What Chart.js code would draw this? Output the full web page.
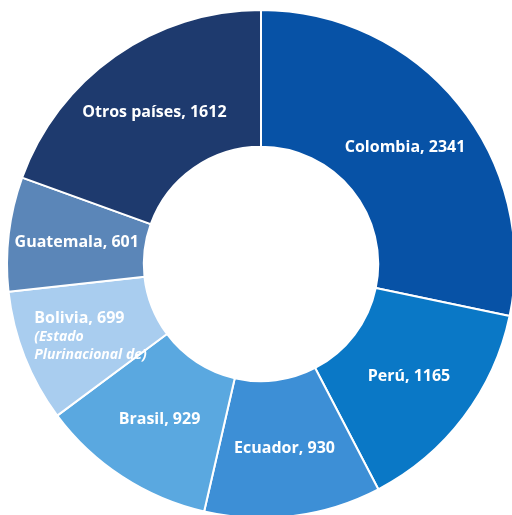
<!DOCTYPE html>
<html>
<head>
<meta charset="utf-8">
<script src="https://cdn.jsdelivr.net/npm/chart.js@4/dist/chart.umd.min.js"></script>
<style>
html,body{margin:0;padding:0;background:#fff;overflow:hidden;width:512px;height:515px;}
#wrap{position:absolute;left:0;top:0;width:522px;height:528px;}
</style>
</head>
<body>
<div id="wrap"><canvas id="c" width="522" height="528"></canvas></div>
<script>
const categories = ["Colombia", "Perú", "Ecuador", "Brasil", "Bolivia", "Guatemala", "Otros países"];
const values = [2341, 1165, 930, 929, 699, 601, 1612];
const subLabels = [[], [], [], [], ["(Estado", "Plurinacional de)"], [], []];
const colors = ["#0752a6", "#0a78c6", "#3d8fd6", "#5aa8e0", "#a9cdef", "#5b86b8", "#1e3a6e"];

const labelPlugin = {
  id: 'sliceLabels',
  afterDatasetsDraw(chart) {
    const ctx = chart.ctx;
    const meta = chart.getDatasetMeta(0);
    ctx.save();
    ctx.fillStyle = '#ffffff';
    ctx.textBaseline = 'middle';
    meta.data.forEach((arc, i) => {
      const p = arc.getCenterPoint();
      const main = categories[i] + ', ' + values[i];
      const subs = subLabels[i];
      if (subs.length === 0) {
        ctx.textAlign = 'center';
        ctx.font = 'bold 16px "Open Sans", sans-serif';
        ctx.fillText(main, p.x, p.y);
      } else {
        ctx.textAlign = 'left';
        ctx.font = 'bold 16px "Open Sans", sans-serif';
        const left = p.x - 54;
        const lh = 18;
        const top = p.y - lh * (subs.length) / 2 + 5;
        ctx.fillText(main, left, top);
        ctx.font = 'italic bold 14px "Open Sans", sans-serif';
        subs.forEach((s, k) => ctx.fillText(s, left, top + lh * (k + 1)));
      }
    });
    ctx.restore();
  }
};

new Chart(document.getElementById('c'), {
  type: 'doughnut',
  data: {
    labels: categories,
    datasets: [{
      data: values,
      backgroundColor: colors,
      borderColor: '#ffffff',
      borderWidth: 2
    }]
  },
  options: {
    responsive: false,
    animation: false,
    radius: 254,
    cutout: 120,
    layout: { padding: 0 },
    plugins: { legend: { display: false }, tooltip: { enabled: false } }
  },
  plugins: [labelPlugin]
});
</script>
</body>
</html>
